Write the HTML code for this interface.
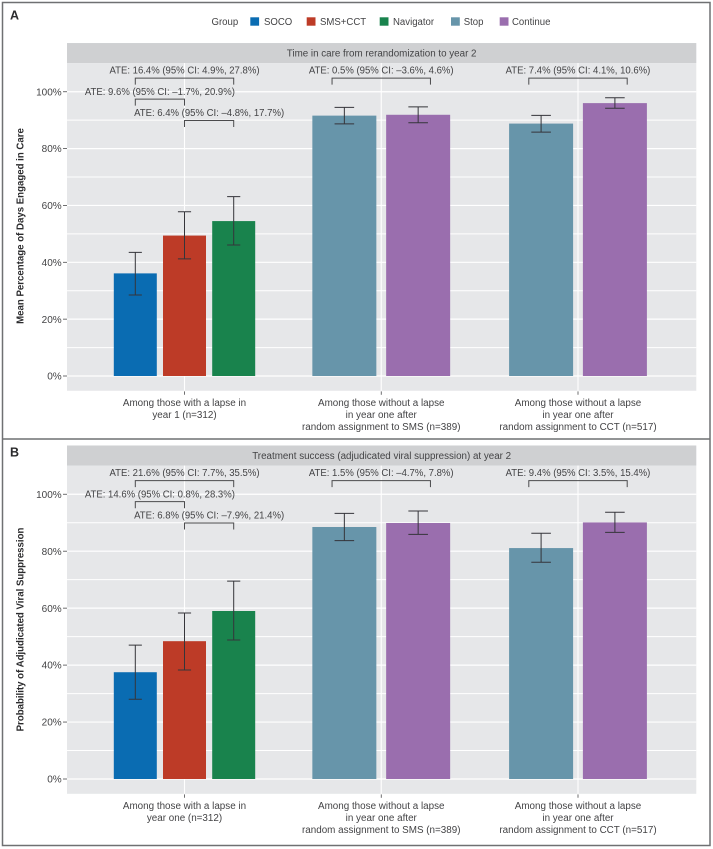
<!DOCTYPE html>
<html lang="en">
<head>
<meta charset="utf-8">
<title>Time in care and treatment success by group</title>
<style>
html,body{margin:0;padding:0;background:#fff;}
body{width:713px;height:849px;overflow:hidden;}
svg{display:block;filter:blur(0.3px);}
text{font-family:"Liberation Sans",sans-serif;font-size:10px;fill:#434345;}
</style>
</head>
<body>
<svg id="chart" width="713" height="849" viewBox="0 0 713 849" xmlns="http://www.w3.org/2000/svg">
  <rect x="0" y="0" width="713" height="849" fill="#fff"/>
  <rect x="2.5" y="2.5" width="707.5" height="843" fill="none" stroke="#6f7072" stroke-width="1.5"/>
  <line x1="2.5" x2="710" y1="439" y2="439" stroke="#6f7072" stroke-width="1.5"/>
  <g>
    <text class="fit" x="211.5" y="25.2">Group</text>
    <rect x="250.3" y="17.3" width="8.8" height="8.4" fill="#0a6cb2"/>
    <text class="fit" x="264" y="25.2">SOCO</text>
    <rect x="306.7" y="17.3" width="8.8" height="8.4" fill="#bd3b27"/>
    <text class="fit" x="320" y="25.2">SMS+CCT</text>
    <rect x="379.7" y="17.3" width="8.8" height="8.4" fill="#19834d"/>
    <text class="fit" x="393" y="25.2">Navigator</text>
    <rect x="451" y="17.3" width="8.8" height="8.4" fill="#6795aa"/>
    <text class="fit" x="463.7" y="25.2">Stop</text>
    <rect x="499.7" y="17.3" width="8.8" height="8.4" fill="#9a6eae"/>
    <text class="fit" x="512" y="25.2">Continue</text>
  </g>
  <text x="10" y="19.3" style="font-size:12.5px;font-weight:bold;fill:#2b2b2d">A</text>
  <text x="10" y="456.7" style="font-size:12.5px;font-weight:bold;fill:#2b2b2d">B</text>
  <g id="panel-a"></g>
  <g id="panel-b"></g>
</svg>
<script>
// Shared categories and ticks
const barGroups = [0, 0, 0, 1, 1, 2, 2];
const barSeries = ['SOCO', 'SMS+CCT', 'Navigator', 'Stop', 'Continue', 'Stop', 'Continue'];
const majorTicks = [0, 20, 40, 60, 80, 100];
const minorTicks = [10, 30, 50, 70, 90];
const bracketGroups = [0, 0, 0, 1, 2];
const bracketFromSlot = [-1, -1, 0, -1, -1];
const bracketToSlot = [1, 0, 1, 1, 1];
const bracketLevels = [104.8, 97.4, 89.9, 104.8, 104.8];

// Panel A: time in care
const aTitle = 'Time in care from rerandomization to year 2';
const aAxisTitle = 'Mean Percentage of Days Engaged in Care';
const aValues = [36.1, 49.4, 54.5, 91.6, 91.9, 88.8, 96.0];
const aLower = [28.5, 41.2, 46.1, 88.7, 89.1, 85.8, 94.2];
const aUpper = [43.5, 57.8, 63.1, 94.5, 94.7, 91.7, 97.9];
const aAteLabels = [
  'ATE: 16.4% (95% CI: 4.9%, 27.8%)',
  'ATE: 9.6% (95% CI: \u20131.7%, 20.9%)',
  'ATE: 6.4% (95% CI: \u20134.8%, 17.7%)',
  'ATE: 0.5% (95% CI: \u20133.6%, 4.6%)',
  'ATE: 7.4% (95% CI: 4.1%, 10.6%)'
];
const aGroupLabels = [
  ['Among those with a lapse in', 'year 1 (n=312)'],
  ['Among those without a lapse', 'in year one after', 'random assignment to SMS (n=389)'],
  ['Among those without a lapse', 'in year one after', 'random assignment to CCT (n=517)']
];

// Panel B: treatment success
const bTitle = 'Treatment success (adjudicated viral suppression) at year 2';
const bAxisTitle = 'Probability of Adjudicated Viral Suppression';
const bValues = [37.5, 48.4, 59.0, 88.5, 89.9, 81.1, 90.1];
const bLower = [28.0, 38.3, 48.8, 83.7, 85.9, 76.1, 86.6];
const bUpper = [47.0, 58.3, 69.5, 93.3, 94.1, 86.3, 93.7];
const bAteLabels = [
  'ATE: 21.6% (95% CI: 7.7%, 35.5%)',
  'ATE: 14.6% (95% CI: 0.8%, 28.3%)',
  'ATE: 6.8% (95% CI: \u20137.9%, 21.4%)',
  'ATE: 1.5% (95% CI: \u20134.7%, 7.8%)',
  'ATE: 9.4% (95% CI: 3.5%, 15.4%)'
];
const bGroupLabels = [
  ['Among those with a lapse in', 'year one (n=312)'],
  ['Among those without a lapse', 'in year one after', 'random assignment to SMS (n=389)'],
  ['Among those without a lapse', 'in year one after', 'random assignment to CCT (n=517)']
];

const colors = {SOCO: '#0a6cb2', 'SMS+CCT': '#bd3b27', Navigator: '#19834d', Stop: '#6795aa', Continue: '#9a6eae'};
const NS = 'http://www.w3.org/2000/svg';

function make(tag, parent, props) {
  const el = document.createElementNS(NS, tag);
  for (const k in props) el.setAttribute(k, props[k]);
  parent.appendChild(el);
  return el;
}
function fit(el, k) {
  const w = el.getComputedTextLength();
  el.setAttribute('textLength', (w * k).toFixed(2));
  el.setAttribute('lengthAdjust', 'spacingAndGlyphs');
}
function groupX(g) { return 184.5 + 196.75 * g; }
function barX(i) {
  const g = barGroups[i];
  const members = barGroups.filter(v => v === g).length;
  const pos = barGroups.slice(0, i).filter(v => v === g).length;
  const step = members === 3 ? 49.2 : 73.8;
  return groupX(g) + (pos - (members - 1) / 2) * step;
}
function barW(i) {
  const g = barGroups[i];
  return barGroups.filter(v => v === g).length === 3 ? 43 : 64;
}

function drawPanel(root, cfg) {
  const y = v => cfg.zero - v * cfg.scale;
  const left = 67, right = 696.3;
  const top = y(110.1), bottom = y(-5.2);

  const strip = make('rect', root, {x: left, y: top - 20, width: right - left, height: 20, fill: '#cfd0d2'});
  
  
  const stripText = make('text', root, {x: (left + right) / 2, y: top - 6.6, 'text-anchor': 'middle'});
  
  
  stripText.textContent = cfg.title;
  fit(stripText, 0.98);

  const bg = make('rect', root, {x: left, y: top, width: right - left, height: bottom - top, fill: '#e6e7e9'});
  
  

  minorTicks.forEach(t => {
    const line = make('line', root, {x1: left, x2: right, y1: y(t), y2: y(t), stroke: '#fff', 'stroke-width': 1});
    
    
  });
  majorTicks.forEach(t => {
    const line = make('line', root, {x1: left, x2: right, y1: y(t), y2: y(t), stroke: '#fff', 'stroke-width': 1.2});
    
    
    const tick = make('line', root, {x1: 63, x2: 67, y1: y(t), y2: y(t), stroke: '#4b4b4d', 'stroke-width': 0.8});
    
    
    const label = make('text', root, {x: 61.7, y: y(t) + 3.6, 'text-anchor': 'end'});
    
    
    label.textContent = t + '%';
  });

  cfg.groupLabels.forEach((lines, g) => {
    const grid = make('line', root, {x1: groupX(g), x2: groupX(g), y1: top, y2: bottom, stroke: '#fff', 'stroke-width': 1.1});
    
    
    const tick = make('line', root, {x1: groupX(g), x2: groupX(g), y1: bottom + 0.6, y2: bottom + 4, stroke: '#4b4b4d', 'stroke-width': 0.8});
    
    
    lines.forEach((line, n) => {
      const label = make('text', root, {x: groupX(g), y: bottom + 15 + n * 12.2, 'text-anchor': 'middle'});
      
      
      label.textContent = line;
      fit(label, 0.985);
    });
  });

  const axisTitle = make('text', root, {x: 0, y: 0, 'text-anchor': 'middle', transform: 'translate(23.5,' + cfg.axisMid + ') rotate(-90)', style: 'font-weight:bold;fill:#2b2b2d'});
  
  
  axisTitle.textContent = cfg.axisTitle;
  fit(axisTitle, 0.965);

  cfg.values.forEach((v, i) => {
    const cx = barX(i), w = barW(i);
    const bar = make('rect', root, {x: cx - w / 2, y: y(v), width: w, height: y(0) - y(v), fill: colors[barSeries[i]]});
    
    
  });
  cfg.values.forEach((v, i) => {
    const cx = barX(i), cap = barW(i) * 0.153;
    const whisker = make('path', root, {
      d: 'M' + (cx - cap) + ' ' + y(cfg.upper[i]) + 'H' + (cx + cap) +
         'M' + cx + ' ' + y(cfg.upper[i]) + 'V' + y(cfg.lower[i]) +
         'M' + (cx - cap) + ' ' + y(cfg.lower[i]) + 'H' + (cx + cap),
      fill: 'none', stroke: '#35353a', 'stroke-width': 1
    });
    
    
  });

  cfg.ate.forEach((txt, i) => {
    const x1 = groupX(bracketGroups[i]) + bracketFromSlot[i] * 49.2;
    const x2 = groupX(bracketGroups[i]) + bracketToSlot[i] * 49.2;
    const level = bracketLevels[i];
    const bracket = make('path', root, {
      d: 'M' + x1 + ' ' + y(level - 2.3) + 'V' + y(level) + 'H' + x2 + 'V' + y(level - 2.3),
      fill: 'none', stroke: '#4b4b4d', 'stroke-width': 1
    });
    
    
    const label = make('text', root, {x: (x1 + x2) / 2, y: y(level + 2.8) + 3.6, 'text-anchor': 'middle'});
    
    
    label.textContent = txt;
    fit(label, 0.955);
  });
}

drawPanel(document.getElementById('panel-a'), {
  zero: 376, scale: 2.8425, title: aTitle, axisTitle: aAxisTitle, axisMid: 226,
  values: aValues, lower: aLower, upper: aUpper, ate: aAteLabels, groupLabels: aGroupLabels
});
drawPanel(document.getElementById('panel-b'), {
  zero: 779, scale: 2.8475, title: bTitle, axisTitle: bAxisTitle, axisMid: 629.5,
  values: bValues, lower: bLower, upper: bUpper, ate: bAteLabels, groupLabels: bGroupLabels
});
document.querySelectorAll('text.fit').forEach(el => fit(el, 0.96));
</script>
</body>
</html>
